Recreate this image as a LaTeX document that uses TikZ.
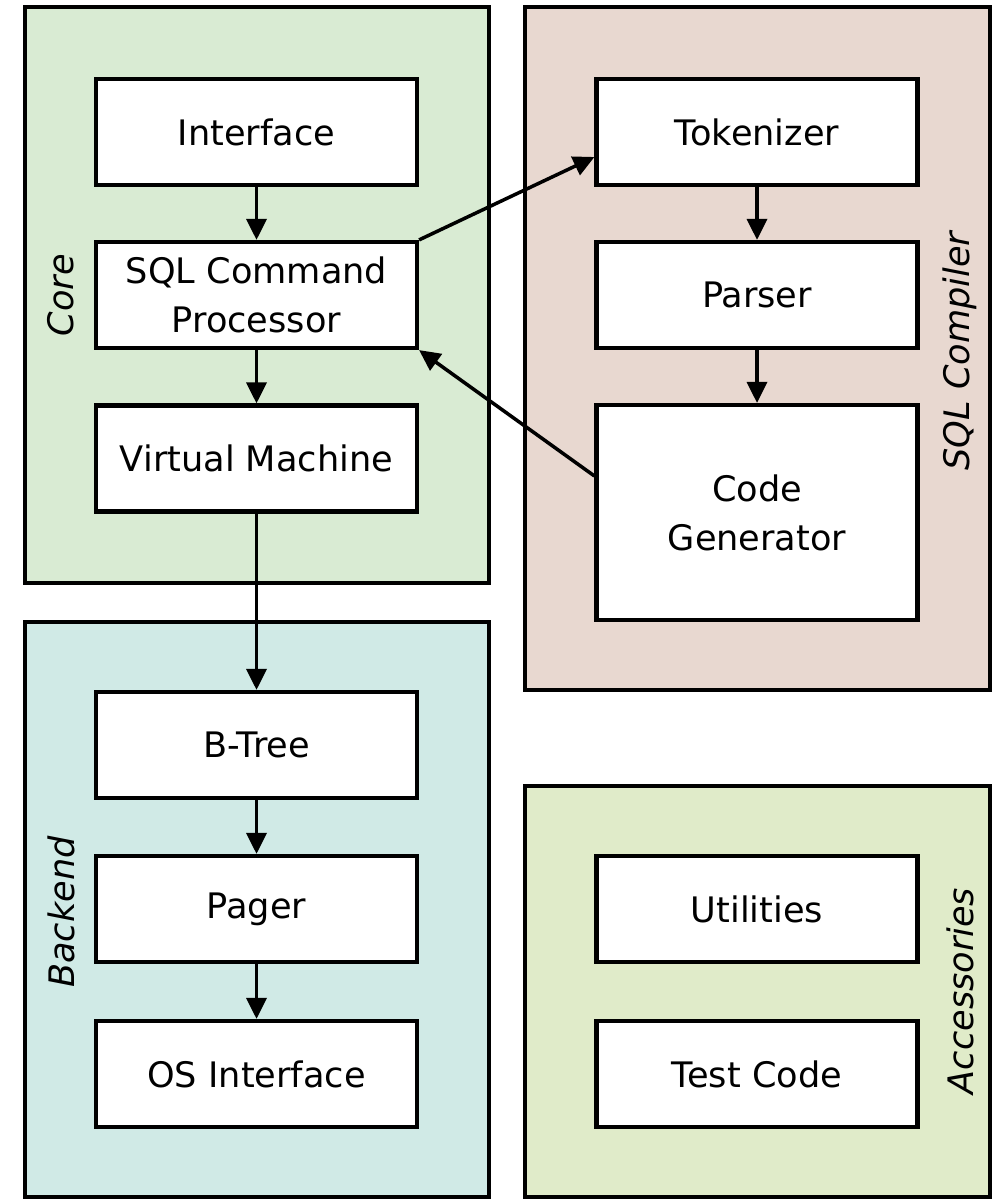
\documentclass[tikz,border=0pt]{standalone}
\usepackage{fontspec}
\setmainfont{DejaVu Sans}
\usepackage{tikz}
\usetikzlibrary{arrows.meta}

\definecolor{coregreen}{RGB}{217,235,211}
\definecolor{compilerrose}{RGB}{232,216,208}
\definecolor{backendteal}{RGB}{208,234,230}
\definecolor{accgreen}{RGB}{224,235,201}

\begin{document}
\begin{tikzpicture}[x=0.02cm,y=-0.02cm,
  group/.style={draw,line width=2.4pt,inner sep=0pt},
  box/.style={draw,fill=white,line width=2.4pt,minimum width=6.42cm,minimum height=2.12cm,
    align=center,font=\fontsize{20}{28}\selectfont},
  grouplabel/.style={rotate=90,font=\fontsize{20}{24}\selectfont\itshape},
  arr/.style={line width=2pt,-{Triangle[length=0.42cm,width=0.4cm]}}]
\useasboundingbox (0,0) rectangle (996,1199);

% the four groups
\node[group,fill=coregreen,minimum width=9.28cm,minimum height=11.52cm] (core) at (257,295) {};
\node[group,fill=compilerrose,minimum width=9.3cm,minimum height=13.66cm] (compiler) at (757.5,348.5) {};
\node[group,fill=backendteal,minimum width=9.28cm,minimum height=11.51cm] (backend) at (257,909.5) {};
\node[group,fill=accgreen,minimum width=9.3cm,minimum height=8.22cm] (acc) at (757.5,991.5) {};

\node[grouplabel] (corelbl) at (61,295) {Core};
\node[grouplabel] (complbl) at (960,351) {SQL Compiler};
\node[grouplabel] (backlbl) at (61,912) {Backend};
\node[grouplabel] (acclbl) at (960,991) {Accessories};

% core
\node[box] (iface) at (256.5,132) {Interface};
\node[box] (sqlproc) at (256.5,295) {SQL Command\\Processor};
\node[box] (vm) at (256.5,458.5) {Virtual Machine};

% sql compiler
\node[box] (tok) at (757,132) {Tokenizer};
\node[box] (parser) at (757,295) {Parser};
\node[box,minimum height=4.3cm] (codegen) at (757,512.5) {Code\\Generator};

% backend
\node[box] (btree) at (256.5,745) {B-Tree};
\node[box] (pager) at (256.5,909) {Pager};
\node[box] (osif) at (256.5,1074) {OS Interface};

% accessories
\node[box] (util) at (757,909) {Utilities};
\node[box] (test) at (757,1074) {Test Code};

\draw[arr] (iface) -- (sqlproc);
\draw[arr] (sqlproc) -- (vm);
\draw[arr] (vm) -- (btree);
\draw[arr] (btree) -- (pager);
\draw[arr] (pager) -- (osif);
\draw[arr] (tok) -- (parser);
\draw[arr] (parser) -- (codegen);
\draw[arr] (sqlproc.north east) -- ([yshift=-0.5cm]tok.west);
\draw[arr] ([yshift=0.73cm]codegen.west) -- (sqlproc.south east);

\end{tikzpicture}
\end{document}
